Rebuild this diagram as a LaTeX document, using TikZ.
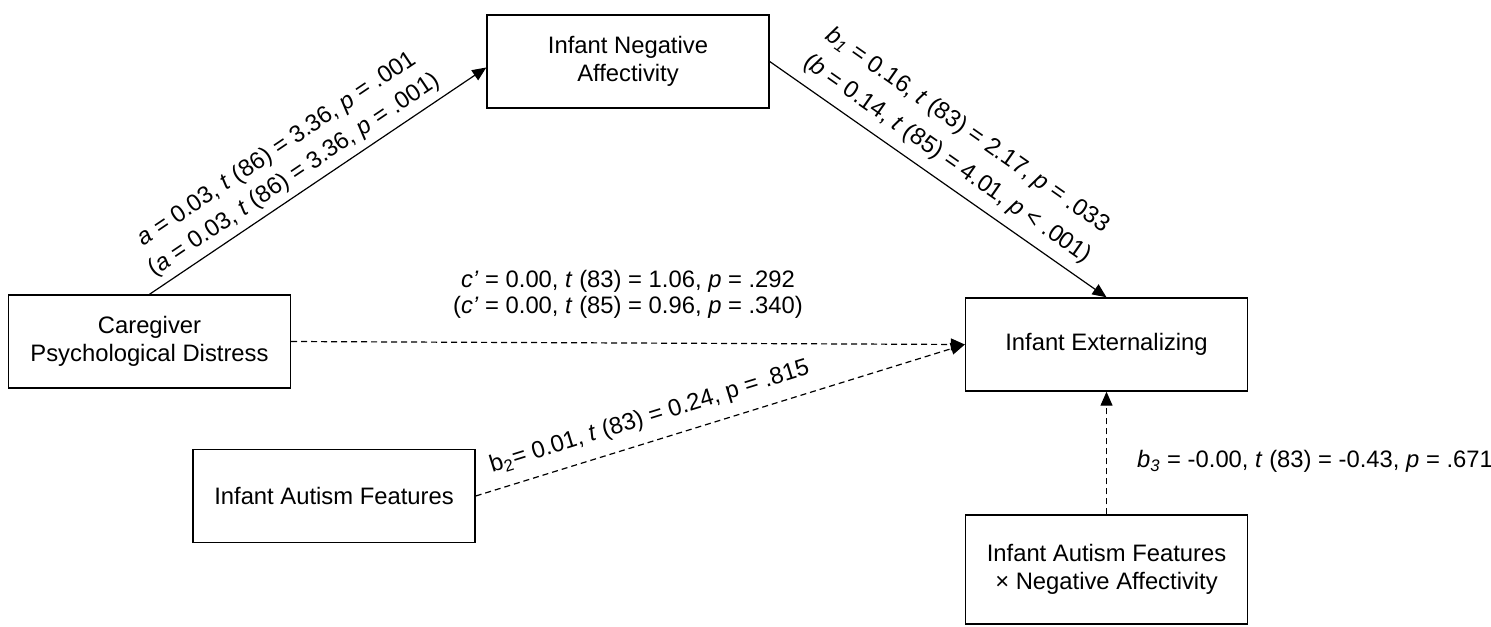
\documentclass[tikz,border=0pt]{standalone}
\usepackage{fontspec}
\setmainfont{Liberation Sans}
\usetikzlibrary{arrows.meta}

\begin{document}
\begin{tikzpicture}[x = 0.5pt, y = -0.5pt, align = center, font = \fontsize{11.9}{14}\selectfont,
	main/.style = {draw, rectangle, line width = 0.7pt, minimum width = 141pt, minimum height = 46.5pt, inner sep = 0pt},
	arc/.style = {line width = 0.6pt, -{Triangle[length = 7pt, width = 6pt]}},
	darc/.style = {arc, dash pattern = on 3pt off 2pt},
	lab/.style = {inner sep = 3pt}]
	\useasboundingbox (0,0) rectangle (1491,626);
	\node[main] (1) at (149.5,341.5) {Caregiver\\Psychological Distress};
	\node[main] (2) at (628,61.5) {Infant Negative\\Affectivity};
	\node[main] (3) at (1106.5,344.5) {Infant Externalizing};
	\node[main] (4) at (334,496) {Infant Autism Features};
	\node[main, minimum height = 54.5pt] (5) at (1106.5,569.5) {Infant Autism Features\\× Negative Affectivity};
	\draw[arc] (1.north) -- ([yshift = -3pt]2.west)
		node[lab, sloped, pos = 0.46, above, font = \fontsize{11.9}{15.5}\selectfont] {\textit{a} = 0.03, \textit{t} (86) = 3.36, \textit{p} = .001\\(\textit{a} = 0.03, \textit{t} (86) = 3.36, \textit{p} = .001)};
	\draw[arc] (2.east) -- (3.north)
		node[lab, sloped, pos = 0.49, above, inner sep = 5pt, font = \fontsize{11.9}{17.5}\selectfont] {\textit{b\textsubscript{1}} = 0.16, \textit{t} (83) = 2.17, \textit{p} = .033\\(\textit{b} = 0.14, \textit{t} (85) = 4.01, \textit{p} < .001)};
	\draw[darc] (1.east) -- (3.west)
		node[lab, pos = 0.5, above, inner sep = 12pt, font = \fontsize{11.9}{13}\selectfont] {\textit{c’} = 0.00, \textit{t} (83) = 1.06, \textit{p} = .292\\(\textit{c’} = 0.00, \textit{t} (85) = 0.96, \textit{p} = .340)};
	\draw[darc] (4.east) -- (3.west)
		node[lab, sloped, pos = 0.37, above, inner sep = 6pt] {b\textsubscript{2}= 0.01, \textit{t} (83) = 0.24, p = .815};
	\draw[darc] (5.north) -- (3.south)
		node[lab, pos = 0.43, right, inner sep = 0pt, xshift = 15pt] {\textit{b\textsubscript{3}} = -0.00, \textit{t} (83) = -0.43, \textit{p} = .671};
\end{tikzpicture}
\end{document}
